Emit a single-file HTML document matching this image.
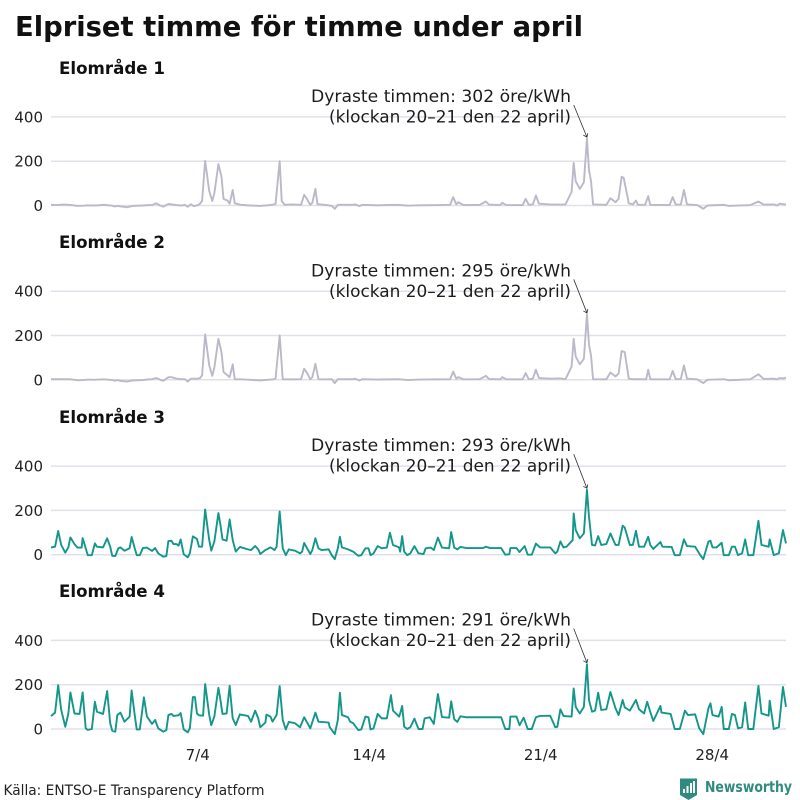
<!DOCTYPE html>
<html lang="sv">
<head>
<meta charset="utf-8">
<title>Elpriset timme för timme under april</title>
<style>
html,body{margin:0;padding:0;background:#fff;width:800px;height:800px;overflow:hidden}
svg{display:block}
text{font-family:"DejaVu Sans","Liberation Sans",sans-serif;fill:#1c1c1c}
.title{font-size:28px;font-weight:700;fill:#111}
.panel{font-size:17px;font-weight:700;fill:#111}
.note{font-size:16.500px;fill:#1c1c1c}
.tick{font-size:15px;fill:#222}
.source{font-size:14.500px;fill:#222}
.brand{font-size:15.500px;font-weight:700;fill:#2f8a80}
</style>
</head>
<body>
<svg id="chart" width="800" height="800" viewBox="0 0 800 800" xmlns="http://www.w3.org/2000/svg">
  <rect x="0" y="0" width="800" height="800" fill="#fff"/>
  <g id="grid-layer"></g>
  <g id="series-layer"></g>
  <text class="title" x="15" y="36" textLength="568" lengthAdjust="spacingAndGlyphs">Elpriset timme för timme under april</text>

  <text class="panel" x="59" y="74" textLength="106" lengthAdjust="spacingAndGlyphs">Elområde 1</text>
  <text class="panel" x="59" y="248" textLength="106" lengthAdjust="spacingAndGlyphs">Elområde 2</text>
  <text class="panel" x="59" y="423" textLength="106" lengthAdjust="spacingAndGlyphs">Elområde 3</text>
  <text class="panel" x="59" y="597" textLength="106" lengthAdjust="spacingAndGlyphs">Elområde 4</text>

  <text class="note" x="311" y="102" textLength="260" lengthAdjust="spacingAndGlyphs">Dyraste timmen: 302 öre/kWh</text>
  <text class="note" x="329" y="122.500" textLength="242" lengthAdjust="spacingAndGlyphs">(klockan 20–21 den 22 april)</text>
  <text class="note" x="311" y="276.500" textLength="260" lengthAdjust="spacingAndGlyphs">Dyraste timmen: 295 öre/kWh</text>
  <text class="note" x="329" y="297" textLength="242" lengthAdjust="spacingAndGlyphs">(klockan 20–21 den 22 april)</text>
  <text class="note" x="311" y="451" textLength="260" lengthAdjust="spacingAndGlyphs">Dyraste timmen: 293 öre/kWh</text>
  <text class="note" x="329" y="471.500" textLength="242" lengthAdjust="spacingAndGlyphs">(klockan 20–21 den 22 april)</text>
  <text class="note" x="311" y="625.500" textLength="260" lengthAdjust="spacingAndGlyphs">Dyraste timmen: 291 öre/kWh</text>
  <text class="note" x="329" y="646" textLength="242" lengthAdjust="spacingAndGlyphs">(klockan 20–21 den 22 april)</text>

  <text class="source" x="3.500" y="795" textLength="261" lengthAdjust="spacingAndGlyphs">Källa: ENTSO-E Transparency Platform</text>

  <g>
    <path d="M680 778.500H697V795L688.500 800L680 795Z" fill="#2f8a80"/>
    <rect x="683" y="789" width="2" height="4" fill="#fff"/>
    <rect x="686.500" y="786" width="2" height="7" fill="#fff"/>
    <rect x="690" y="783" width="2" height="10" fill="#fff"/>
    <rect x="693" y="781" width="2" height="12" fill="#fff"/>
    <text class="brand" x="705" y="792" textLength="87" lengthAdjust="spacingAndGlyphs">Newsworthy</text>
  </g>
</svg>
<script>
const yTickValues = [0, 200, 400];
const xTickHours = [144, 312, 480, 648];
const xTickLabels = ['7/4', '14/4', '21/4', '28/4'];

const hoursArea1 = [
0,6,12,18,26,32,36,42,46,52,60,62,66,68,72,74,80,90,96,99,
103,107,110,115,123,128,131,134,137,140,144,146,148,151,155,158,160,164,167,169,
173,175,178,180,186,195,205,212,218,220,224,226,229,236,245,248,250,254,256,259,
261,270,275,278,281,296,298,302,305,320,340,350,360,380,391,394,397,399,404,420,
426,429,440,442,446,462,465,468,472,475,478,489,499,504,510,512,514,518,522,525,
527,529,531,544,548,553,556,559,561,566,570,573,575,582,585,587,606,609,612,617,
620,623,633,639,643,659,664,685,693,698,708,711,714,720];
const pricesArea1 = [
3,2,4,3,-2,-1,1,0,1,3,-1,-4,-2,-4,-6,-8,-2,0,2,2,
10,0,-5,7,2,0,3,-6,6,-3,2,8,20,202,65,20,55,187,130,30,
22,8,70,10,3,0,-2,1,4,8,200,20,3,5,3,48,35,3,12,75,
6,2,-2,-15,3,3,5,-3,3,1,3,-1,1,2,3,38,5,15,2,3,
18,4,2,12,2,2,30,3,5,45,8,5,4,5,62,192,110,75,105,302,
160,110,5,3,33,15,30,130,125,10,5,22,3,3,42,3,2,38,4,5,
70,5,2,-15,0,3,-2,2,18,4,5,0,8,4];

const hoursArea2 = [
0,6,12,18,26,32,36,42,46,52,60,62,66,68,72,74,80,90,96,99,
103,107,110,115,118,123,128,131,134,137,144,146,148,151,155,158,160,164,167,169,
173,175,178,180,186,195,205,212,218,220,224,227,229,236,245,248,251,254,256,259,
262,270,275,278,281,296,298,302,305,320,340,350,360,380,391,394,397,399,404,420,
426,429,440,442,446,462,465,468,472,475,478,489,499,504,510,512,514,518,522,525,
527,529,531,544,548,553,556,559,562,566,570,576,583,585,587,606,609,612,617,620,
623,633,639,643,659,664,685,693,698,708,711,714,717,720];
const pricesArea2 = [
3,3,3,3,-2,-1,1,0,1,2,-1,-4,-2,-5,-7,-8,-3,-1,2,3,
8,0,-5,12,12,5,3,3,-8,5,5,8,20,205,65,18,55,185,125,35,
20,12,70,3,2,0,-3,0,2,6,200,3,2,2,3,50,30,2,12,72,
3,2,3,-15,3,3,5,-3,3,1,3,-1,1,2,3,37,5,12,2,3,
18,4,2,12,2,2,30,3,5,45,8,5,6,3,60,185,105,70,95,295,
160,110,3,2,33,15,28,130,125,5,3,3,2,45,3,2,40,3,4,65,
5,2,-15,0,3,-2,2,25,4,5,2,8,6,10];

const hoursArea3 = [
0,4,7,10,14,17,19,23,26,30,31,34,36,40,43,45,51,55,58,60,
63,66,68,72,77,79,82,84,87,90,94,99,102,105,110,113,115,118,120,123,
125,127,130,134,136,139,143,145,148,151,155,157,160,164,166,168,172,175,178,181,
185,193,196,200,203,205,210,215,219,221,224,227,230,233,239,244,246,248,250,254,
256,259,262,265,272,275,278,281,283,285,291,296,301,304,308,311,313,316,320,324,
329,332,335,341,342,344,346,349,352,356,360,365,367,372,375,379,383,390,392,395,
398,401,407,423,426,430,441,445,449,450,456,459,464,467,471,475,479,489,494,496,
499,502,505,511,512,514,518,522,525,527,530,533,536,539,544,548,553,556,560,562,
567,570,573,576,581,585,587,590,597,599,608,611,616,620,623,631,636,639,644,646,
648,652,657,659,664,667,670,673,677,680,683,688,693,696,703,704,708,713,717,720];
const pricesArea3 = [
32,36,107,44,9,33,78,48,32,32,75,29,-2,-2,51,36,33,74,36,-5,
-6,29,33,18,29,80,29,-2,-2,30,32,17,30,6,-9,-6,62,63,48,48,
41,69,2,-12,6,83,71,36,36,204,66,18,59,188,134,69,63,159,66,14,
35,24,21,39,24,3,21,33,21,36,195,29,-2,24,18,6,14,53,36,3,
21,74,29,21,24,-2,-20,29,81,33,24,14,-5,-2,29,29,-2,6,39,29,
32,99,44,33,14,84,14,-2,6,39,6,3,29,32,21,77,32,29,102,32,
24,35,30,30,36,30,30,0,2,30,30,12,39,0,0,50,33,33,6,14,
60,33,36,66,186,111,74,96,293,171,44,42,84,44,48,96,44,44,131,123,
44,44,108,36,36,81,44,26,57,36,35,-2,-2,69,39,36,-2,-20,59,63,
33,33,54,-2,-2,36,36,-2,6,69,-2,-2,153,44,36,69,-2,6,111,51];

const hoursArea4 = [
0,4,7,10,14,17,19,23,28,31,34,36,40,43,45,51,55,58,60,63,
65,68,72,77,79,82,84,87,91,94,99,102,105,110,113,115,118,120,125,127,
130,134,136,139,141,143,145,149,151,155,157,160,164,166,168,172,175,178,181,185,
193,196,200,203,205,210,211,215,217,221,224,227,230,233,239,244,248,254,259,262,
272,273,278,281,283,285,291,293,296,301,304,308,311,313,316,320,324,329,333,335,
341,342,344,346,349,352,356,360,364,366,371,375,379,383,390,392,395,398,401,407,
441,445,449,450,456,459,463,467,471,475,479,489,494,496,499,502,510,512,514,518,
522,525,527,530,533,536,539,544,548,553,556,560,562,567,573,576,581,584,587,590,
597,598,607,611,616,621,624,631,635,639,644,646,648,654,657,659,664,667,670,673,
677,680,683,688,693,696,703,704,708,713,717,720];
const pricesArea4 = [
58,74,198,86,10,70,165,70,68,165,3,-4,0,123,78,68,171,26,-8,-12,
63,74,33,56,174,63,-2,-2,143,56,23,41,3,-12,-5,63,68,59,62,72,
-2,-15,3,144,144,70,62,60,203,63,17,56,186,131,68,70,195,48,18,66,
59,33,83,48,8,29,65,56,33,63,194,41,-2,32,26,8,53,3,74,33,
29,8,-23,41,164,63,53,33,26,-5,-2,56,53,-2,3,68,48,48,153,83,
56,70,104,10,0,8,47,0,0,48,53,23,158,54,51,125,44,32,57,53,
53,0,0,56,56,17,51,0,0,53,59,60,8,10,89,59,56,183,100,70,
100,292,131,78,83,164,86,89,167,93,63,131,98,83,131,89,70,123,78,36,
104,74,68,0,0,83,63,66,3,-23,93,116,63,56,100,0,0,68,63,3,
8,120,0,0,195,70,60,128,0,8,190,100];

const svgNS = 'http://www.w3.org/2000/svg';
const gridLayer = document.getElementById('grid-layer');
const seriesLayer = document.getElementById('series-layer');
const plotLeft = 51;
const plotRight = 786;
const totalHours = 720;
const pixelsPerUnit = 0.2215;
const panels = [
  {zero: 205.5, hours: hoursArea1, prices: pricesArea1, color: '#bab9c9'},
  {zero: 379.8, hours: hoursArea2, prices: pricesArea2, color: '#bab9c9'},
  {zero: 554.7, hours: hoursArea3, prices: pricesArea3, color: '#14968a'},
  {zero: 729, hours: hoursArea4, prices: pricesArea4, color: '#14968a'}
];

function xScale(hour) {
  return plotLeft + (hour / totalHours) * (plotRight - plotLeft);
}
function yScale(price, zero) {
  return zero - price * pixelsPerUnit;
}

panels.forEach(function (panel, panelIndex) {
  yTickValues.forEach(function (tick) {
    const y = yScale(tick, panel.zero);
    const grid = document.createElementNS(svgNS, 'line');
    
    
    grid.setAttribute('x1', plotLeft);
    grid.setAttribute('x2', plotRight);
    grid.setAttribute('y1', y);
    grid.setAttribute('y2', y);
    grid.setAttribute('stroke', '#e1e0e9');
    grid.setAttribute('stroke-width', '1.5');
    gridLayer.appendChild(grid);

    const label = document.createElementNS(svgNS, 'text');
    
    
    label.setAttribute('class', 'tick');
    label.setAttribute('x', 43);
    label.setAttribute('y', y + 5.5);
    label.setAttribute('text-anchor', 'end');
    label.textContent = String(tick);
    gridLayer.appendChild(label);
  });

  const points = panel.hours.map(function (hour, i) {
    return xScale(hour).toFixed(2) + ',' + yScale(panel.prices[i], panel.zero).toFixed(2);
  });
  const line = document.createElementNS(svgNS, 'polyline');
  
  
  line.setAttribute('points', points.join(' '));
  line.setAttribute('fill', 'none');
  line.setAttribute('stroke', panel.color);
  line.setAttribute('stroke-width', '1.9');
  line.setAttribute('stroke-linejoin', 'round');
  seriesLayer.appendChild(line);

  const peak = Math.max.apply(null, panel.prices);
  const peakHour = panel.hours[panel.prices.indexOf(peak)];
  const tipX = xScale(peakHour);
  const tipY = yScale(peak, panel.zero) - 1.5;
  const startX = tipX - 13.2;
  const startY = panel.zero - 100.5;
  const arrow = document.createElementNS(svgNS, 'path');
  
  
  arrow.setAttribute('d', 'M' + startX + ' ' + startY + 'L' + tipX + ' ' + tipY +
    'M' + (tipX - 3.6) + ' ' + (tipY - 2) + 'L' + tipX + ' ' + tipY + 'L' + (tipX + 0.9) + ' ' + (tipY - 3.9));
  arrow.setAttribute('fill', 'none');
  arrow.setAttribute('stroke', '#333');
  arrow.setAttribute('stroke-width', '0.8');
  seriesLayer.appendChild(arrow);
});

xTickHours.forEach(function (hour, i) {
  const label = document.createElementNS(svgNS, 'text');
  
  
  label.setAttribute('class', 'tick');
  label.setAttribute('x', xScale(hour) - 0.3);
  label.setAttribute('y', 760);
  label.setAttribute('text-anchor', 'middle');
  label.textContent = xTickLabels[i];
  gridLayer.appendChild(label);
});
</script>
</body>
</html>
